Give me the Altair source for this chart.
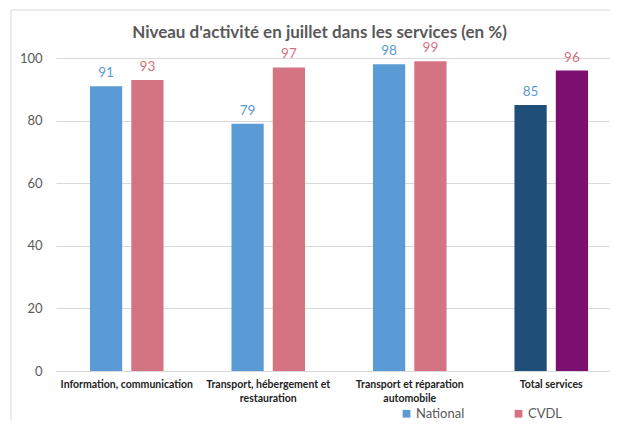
import altair as alt
import pandas as pd

categories = ["Information, communication", "Transport, hébergement et|restauration",
              "Transport et réparation|automobile", "Total services"]
series = ["National", "CVDL"]
national = [91, 79, 98, 85]
cvdl = [93, 97, 99, 96]
title_text = ["Niveau d'activité en juillet dans les services (en %)"]

rows = []
for i, c in enumerate(categories):
    for s, vals in (("National", national), ("CVDL", cvdl)):
        key = s if c != "Total services" else "Total " + s
        rows.append({"cat": c, "series": s, "key": key, "value": vals[i]})
df = pd.DataFrame(rows)

FONT = "Lato"
W, H = 554, 313

x = alt.X("cat:N", sort=categories, title=None,
          scale=alt.Scale(paddingInner=0.48, paddingOuter=0.24, range=[0, 566]),
          axis=alt.Axis(labelAngle=0, labelExpr="split(datum.label, '|')",
                        labelFont=FONT, labelFontWeight="bold", labelFontSize=10.5,
                        labelColor="#222222", labelPadding=8, labelLineHeight=14,
                        ticks=False, domainColor="#D9D9D9", labelLimit=200))
xo = alt.XOffset("series:N", sort=series, scale=alt.Scale(paddingInner=0.22, paddingOuter=0))
y = alt.Y("value:Q", title=None, scale=alt.Scale(domain=[0, 100]),
          axis=alt.Axis(values=[0, 20, 40, 60, 80, 100], ticks=False, domain=False,
                        labelFont=FONT, labelFontSize=13, labelColor="#595959",
                        labelPadding=14, gridColor="#D9D9D9"))

bars = alt.Chart(df).mark_bar().encode(
    x=x, xOffset=xo, y=y,
    color=alt.Color("key:N",
                    scale=alt.Scale(domain=["National", "CVDL", "Total National", "Total CVDL"],
                                    range=["#5B9BD5", "#D47382", "#1F4E79", "#7B1070"]),
                    legend=alt.Legend(values=["National", "CVDL"], title=None, orient="none",
                                      direction="horizontal", legendX=344, legendY=349,
                                      symbolType="square", symbolSize=60, labelFont=FONT,
                                      labelFontSize=13, labelColor="#595959", columnPadding=47,
                                      labelOffset=3, symbolStrokeWidth=0)),
)

labels = alt.Chart(df).mark_text(baseline="bottom", dy=-6, font=FONT, fontSize=13.5).encode(
    x=alt.X("cat:N", sort=categories), xOffset=alt.XOffset("series:N", sort=series),
    y="value:Q", text="value:Q",
    color=alt.Color("series:N", scale=alt.Scale(domain=series, range=["#5B9BD5", "#D47382"]),
                    legend=None),
)

frame = alt.Chart(pd.DataFrame({"a": [0]})).mark_rect(fill=None, stroke="#D9D9D9", strokeWidth=1).encode(
    x=alt.value(-45), x2=alt.value(3000), y=alt.value(-48), y2=alt.value(3000))

title = alt.Chart(pd.DataFrame({"t": title_text})).mark_text(
    font=FONT, fontSize=17, fontWeight="bold", color="#595959", align="center",
    baseline="alphabetic").encode(text="t:N", x=alt.value(263.5), y=alt.value(-20))

chart = alt.layer(frame, bars, labels, title).resolve_scale(color="independent").properties(
    width=W, height=H,
    autosize=alt.AutoSizeParams(type="none"),
    padding={"left": 48, "top": 50, "right": 0, "bottom": 49},
).configure_view(stroke=None)

chart.save("out.html", embed_options={"renderer": "svg", "actions": False})
